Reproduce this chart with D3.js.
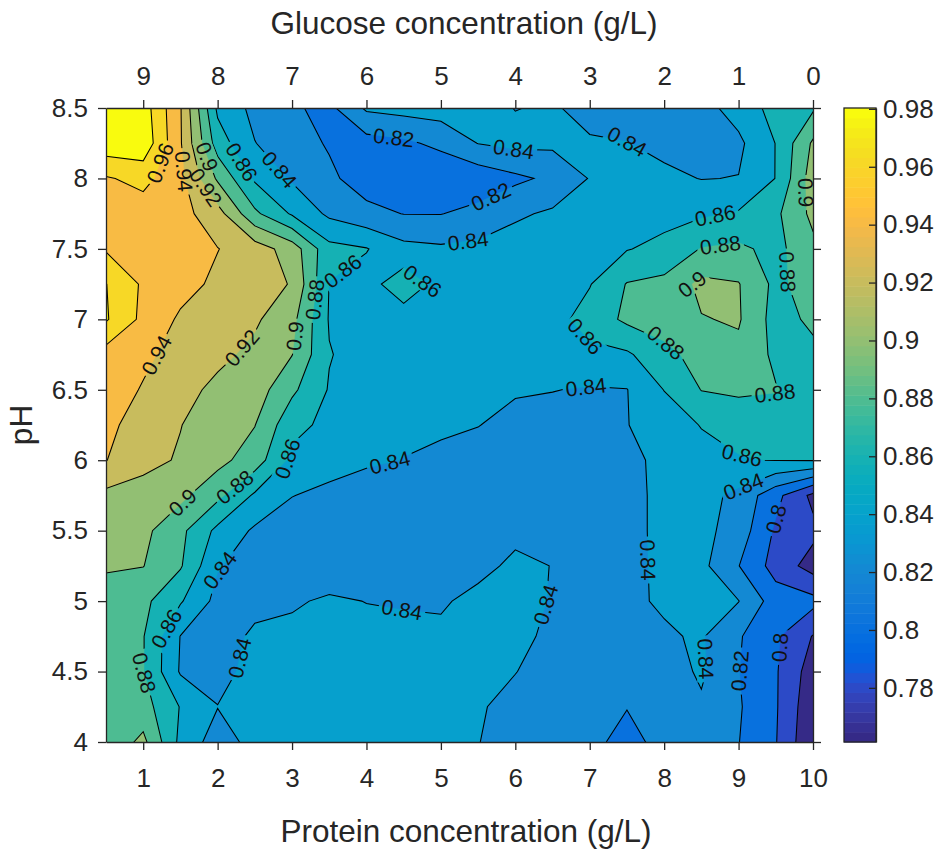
<!DOCTYPE html>
<html>
<head>
<meta charset="utf-8">
<script src="https://cdn.jsdelivr.net/npm/d3@7"></script>
<style>
  body { margin: 0; background: #fff; }
  svg text { font-family: "Liberation Sans", Arial, sans-serif; }
</style>
</head>
<body>
<svg id="chart" width="942" height="856"></svg>
<script>
// grid columns (protein g/L) and rows (pH, top to bottom)
var protein = [0.5, 1, 1.5, 2, 2.5, 3, 3.5, 4, 4.5, 5, 5.5, 6, 6.5, 7, 7.5, 8, 8.5, 9, 9.5, 10]
var phRows = [8.5, 8.25, 8, 7.75, 7.5, 7.25, 7, 6.75, 6.5, 6.25, 6, 5.75, 5.5, 5.25, 5, 4.75, 4.5, 4.25, 4]

// measured response, one array per pH row
var z850 = [0.99, 0.99, 0.9415, 0.856, 0.8345, 0.8225, 0.815, 0.843, 0.847, 0.849, 0.847, 0.8395, 0.842, 0.834, 0.831, 0.830, 0.833, 0.848, 0.867, 0.877]
var z825 = [0.993, 0.994, 0.942, 0.870, 0.8405, 0.829, 0.818, 0.812, 0.816, 0.825, 0.8405, 0.845, 0.844, 0.842, 0.8405, 0.835, 0.832, 0.836, 0.8605, 0.903]
var z800 = [0.958, 0.966, 0.9455, 0.897, 0.857, 0.8375, 0.824, 0.810, 0.803, 0.803, 0.807, 0.816, 0.824, 0.841, 0.845, 0.844, 0.8395, 0.8405, 0.8605, 0.910]
var z775 = [0.952, 0.950, 0.947, 0.928, 0.884, 0.8575, 0.836, 0.826, 0.8195, 0.8195, 0.826, 0.837, 0.843, 0.847, 0.850, 0.853, 0.857, 0.862, 0.876, 0.905]
var z750 = [0.958, 0.952, 0.947, 0.9405, 0.930, 0.911, 0.866, 0.861, 0.846, 0.843, 0.845, 0.849, 0.852, 0.855, 0.859, 0.866, 0.881, 0.884, 0.874, 0.895]
var z725 = [0.9805, 0.957, 0.947, 0.936, 0.927, 0.919, 0.8595, 0.852, 0.872, 0.853, 0.848, 0.848, 0.849, 0.859, 0.881, 0.885, 0.905, 0.901, 0.875, 0.890]
var z700 = [0.982, 0.955, 0.937, 0.930, 0.923, 0.906, 0.8585, 0.851, 0.850, 0.849, 0.848, 0.850, 0.853, 0.868, 0.884, 0.890, 0.899, 0.902, 0.872, 0.884]
var z675 = [0.952, 0.944, 0.933, 0.925, 0.915, 0.9005, 0.861, 0.852, 0.849, 0.848, 0.847, 0.848, 0.850, 0.855, 0.857, 0.874, 0.888, 0.895, 0.876, 0.875]
var z650 = [0.950, 0.9385, 0.927, 0.915, 0.910, 0.884, 0.8585, 0.849, 0.847, 0.846, 0.845, 0.842, 0.8405, 0.8385, 0.8395, 0.8605, 0.8805, 0.884, 0.881, 0.872]
var z625 = [0.945, 0.931, 0.9205, 0.910, 0.9005, 0.866, 0.855, 0.848, 0.845, 0.843, 0.8405, 0.834, 0.833, 0.834, 0.8395, 0.848, 0.861, 0.865, 0.870, 0.870]
var z600 = [0.9405, 0.926, 0.918, 0.906, 0.890, 0.855, 0.848, 0.843, 0.8395, 0.836, 0.832, 0.830, 0.830, 0.831, 0.835, 0.845, 0.852, 0.859, 0.8605, 0.861]
var z575 = [0.915, 0.912, 0.905, 0.885, 0.857, 0.8405, 0.835, 0.830, 0.828, 0.826, 0.825, 0.825, 0.825, 0.826, 0.834, 0.845, 0.847, 0.835, 0.806, 0.775]
var z550 = [0.908, 0.905, 0.885, 0.855, 0.837, 0.830, 0.826, 0.825, 0.824, 0.824, 0.826, 0.834, 0.832, 0.830, 0.834, 0.845, 0.846, 0.831, 0.797, 0.785]
var z525 = [0.903, 0.9005, 0.882, 0.8415, 0.831, 0.827, 0.825, 0.824, 0.825, 0.827, 0.833, 0.845, 0.8395, 0.835, 0.836, 0.843, 0.845, 0.8205, 0.792, 0.772]
var z500 = [0.888, 0.885, 0.862, 0.834, 0.835, 0.837, 0.8435, 0.8395, 0.838, 0.837, 0.847, 0.848, 0.8385, 0.835, 0.837, 0.842, 0.847, 0.8405, 0.810, 0.806]
var z475 = [0.886, 0.881, 0.8395, 0.832, 0.843, 0.846, 0.848, 0.847, 0.846, 0.845, 0.846, 0.845, 0.836, 0.833, 0.834, 0.838, 0.842, 0.822, 0.803, 0.779]
var z450 = [0.884, 0.881, 0.838, 0.832, 0.848, 0.849, 0.850, 0.850, 0.849, 0.848, 0.847, 0.8405, 0.832, 0.828, 0.826, 0.830, 0.843, 0.8205, 0.802, 0.770]
var z425 = [0.883, 0.888, 0.859, 0.8405, 0.847, 0.850, 0.851, 0.851, 0.850, 0.849, 0.842, 0.834, 0.828, 0.825, 0.8205, 0.826, 0.837, 0.822, 0.802, 0.765]
var z400 = [0.885, 0.905, 0.855, 0.830, 0.847, 0.850, 0.851, 0.851, 0.850, 0.849, 0.8405, 0.832, 0.827, 0.824, 0.815, 0.825, 0.828, 0.8205, 0.801, 0.762]

var zRows = [z850, z825, z800, z775, z750, z725, z700, z675, z650, z625, z600, z575, z550, z525, z500, z475, z450, z425, z400]

// contour levels and ticks
var levels = [0.78, 0.8, 0.82, 0.84, 0.86, 0.88, 0.9, 0.92, 0.94, 0.96, 0.98]
var proteinTicks = [1, 2, 3, 4, 5, 6, 7, 8, 9, 10]
var glucoseTicks = [9, 8, 7, 6, 5, 4, 3, 2, 1, 0]
var phTicks = [4, 4.5, 5, 5.5, 6, 6.5, 7, 7.5, 8, 8.5]
var barTicks = [0.78, 0.8, 0.82, 0.84, 0.86, 0.88, 0.9, 0.92, 0.94, 0.96, 0.98]
var colorLimits = [0.7613, 0.9803]

// inline contour labels: [level, protein, pH]
var contourLabels = [
  [0.96, 1.23, 8.11], [0.94, 1.55, 8.05], [0.92, 1.99, 7.99], [0.9, 1.83, 8.15],
  [0.86, 2.33, 8.12], [0.84, 2.76, 8.03], [0.82, 4.36, 8.26], [0.84, 5.98, 8.22],
  [0.82, 5.69, 7.85], [0.84, 5.35, 7.62], [0.84, 7.5, 8.26], [0.86, 3.67, 7.35],
  [0.86, 4.79, 7.30], [0.88, 3.3, 7.14], [0.9, 3.05, 6.88], [0.94, 1.13, 6.76],
  [0.92, 2.41, 6.76], [0.9, 1.6, 5.66], [0.88, 2.26, 5.79], [0.86, 2.88, 6.02],
  [0.84, 4.33, 5.95], [0.84, 2.05, 5.21], [0.86, 1.36, 4.79], [0.88, 1.01, 4.49],
  [0.84, 2.27, 4.60], [0.84, 4.5, 5.01], [0.84, 6.44, 4.97], [0.84, 7.68, 5.29],
  [0.84, 8.55, 4.59], [0.82, 9.13, 4.50], [0.8, 9.52, 5.58], [0.8, 9.61, 4.67],
  [0.84, 9.09, 5.78], [0.86, 9.03, 6.0], [0.86, 8.7, 7.70], [0.88, 8.76, 7.51],
  [0.9, 8.21, 7.26], [0.86, 6.98, 6.90], [0.88, 8.0, 6.82], [0.88, 9.5, 6.42],
  [0.84, 6.95, 6.52], [0.88, 9.76, 7.34], [0.9, 9.93, 7.90]
]

// parula colormap (64 entries)
var parula = [[0.2081,0.1663,0.5292],[0.2116,0.1898,0.5777],[0.2123,0.2138,0.6270],[0.2081,0.2386,0.6771],[0.1959,0.2645,0.7279],[0.1707,0.2919,0.7792],[0.1253,0.3242,0.8303],[0.0591,0.3598,0.8683],[0.0117,0.3875,0.8820],[0.0060,0.4086,0.8828],[0.0165,0.4266,0.8786],[0.0329,0.4430,0.8720],[0.0498,0.4586,0.8641],[0.0629,0.4737,0.8554],[0.0723,0.4887,0.8467],[0.0779,0.5040,0.8384],[0.0793,0.5200,0.8312],[0.0749,0.5375,0.8263],[0.0641,0.5570,0.8240],[0.0488,0.5772,0.8228],[0.0343,0.5966,0.8199],[0.0265,0.6137,0.8135],[0.0239,0.6287,0.8038],[0.0231,0.6418,0.7913],[0.0228,0.6535,0.7768],[0.0267,0.6642,0.7607],[0.0384,0.6743,0.7436],[0.0590,0.6838,0.7254],[0.0843,0.6928,0.7062],[0.1133,0.7015,0.6859],[0.1453,0.7098,0.6646],[0.1801,0.7177,0.6424],[0.2178,0.7250,0.6193],[0.2586,0.7317,0.5954],[0.3022,0.7376,0.5712],[0.3482,0.7424,0.5473],[0.3953,0.7459,0.5244],[0.4420,0.7481,0.5033],[0.4871,0.7491,0.4840],[0.5300,0.7491,0.4661],[0.5709,0.7485,0.4494],[0.6099,0.7473,0.4337],[0.6473,0.7456,0.4188],[0.6834,0.7435,0.4044],[0.7184,0.7411,0.3905],[0.7525,0.7384,0.3768],[0.7858,0.7356,0.3633],[0.8185,0.7327,0.3498],[0.8507,0.7299,0.3360],[0.8824,0.7274,0.3217],[0.9139,0.7258,0.3063],[0.9450,0.7261,0.2886],[0.9739,0.7314,0.2666],[0.9938,0.7455,0.2403],[0.9990,0.7653,0.2164],[0.9955,0.7861,0.1967],[0.9880,0.8066,0.1794],[0.9789,0.8271,0.1633],[0.9697,0.8481,0.1475],[0.9626,0.8705,0.1309],[0.9589,0.8949,0.1132],[0.9598,0.9218,0.0948],[0.9661,0.9514,0.0755],[0.9763,0.9831,0.0538]]
  .map(c => d3.rgb(c[0] * 255, c[1] * 255, c[2] * 255).formatHex())

var plotLeft = 106, plotRight = 813, plotTop = 108, plotBottom = 742
var barLeft = 844, barWidth = 32
var axisColor = '#262626'
var tickFont = 26, titleFont = 31.5, labelFont = 21

var svg = d3.select('#chart')
var defs = svg.append('defs')

// scales
var xScale = d3.scaleLinear().domain([0.5, 10]).range([plotLeft, plotRight])
var xTopScale = d3.scaleLinear().domain([9.5, 0]).range([plotLeft, plotRight])
var yScale = d3.scaleLinear().domain([4, 8.5]).range([plotBottom, plotTop])
var colorScale = d3.scaleQuantize().domain(colorLimits).range(parula)
var barScale = d3.scaleLinear().domain(colorLimits).range([plotBottom, plotTop])

// contours on the grid
var nx = protein.length, ny = phRows.length
var stepX = protein[1] - protein[0], stepY = phRows[0] - phRows[1]
var contours = d3.contours().size([nx, ny]).thresholds(levels)(zRows.flat())

function gridToPx(cx, cy) {
  return [xScale(protein[0] + (cx - 0.5) * stepX), yScale(phRows[0] - (cy - 0.5) * stepY)]
}
var path = d3.geoPath(d3.geoTransform({
  point: function(cx, cy) {
    var p = gridToPx(cx, cy)
    this.stream.point(p[0], p[1])
  }
}))

defs.append('clipPath').attr('id', 'plot-clip')
  .append('rect')
  .attr('x', plotLeft).attr('y', plotTop)
  .attr('width', plotRight - plotLeft).attr('height', plotBottom - plotTop)

var plot = svg.append('g').attr('clip-path', 'url(#plot-clip)')

// lowest band
plot.append('rect')
  .attr('x', plotLeft).attr('y', plotTop)
  .attr('width', plotRight - plotLeft).attr('height', plotBottom - plotTop)
  .style('fill', colorScale(d3.min(zRows.flat())))

plot.selectAll('path.band')
  .data(contours)
  .enter()
  .append('path')
  .attr('class', 'band')
  .attr('d', path)
  .style('fill', d => colorScale(d.value))
  .style('stroke', d => colorScale(d.value))
  .style('stroke-width', 0.3)

// mask to break lines under labels
var mask = defs.append('mask').attr('id', 'label-gaps')
  .attr('maskUnits', 'userSpaceOnUse')
  .attr('x', 0).attr('y', 0).attr('width', 942).attr('height', 856)
mask.append('rect').attr('width', 942).attr('height', 856).style('fill', 'white')

plot.append('g')
  .attr('mask', 'url(#label-gaps)')
  .selectAll('path.line')
  .data(contours)
  .enter()
  .append('path')
  .attr('class', 'line')
  .attr('d', path)
  .style('fill', 'none')
  .style('stroke', '#000')
  .style('stroke-width', 1.05)

// segments of each level, in px, for placing labels on the lines
var segments = {}
contours.forEach(function(c) {
  var list = []
  c.coordinates.forEach(function(poly) {
    poly.forEach(function(ring) {
      var pts = ring.map(p => gridToPx(p[0], p[1]))
      for (var i = 1; i < pts.length; i++) {
        var a = pts[i - 1], b = pts[i]
        var inside = [a, b].every(p => p[0] >= plotLeft - 0.1 && p[0] <= plotRight + 0.1 && p[1] >= plotTop - 0.1 && p[1] <= plotBottom + 0.1)
        if (inside) list.push([a, b])
      }
    })
  })
  segments[c.value] = list
})

function placeLabel(level, px, py) {
  var best = null
  ;(segments[level] || []).forEach(function(s) {
    var a = s[0], b = s[1]
    var dx = b[0] - a[0], dy = b[1] - a[1]
    var len2 = dx * dx + dy * dy
    var t = len2 ? Math.max(0, Math.min(1, ((px - a[0]) * dx + (py - a[1]) * dy) / len2)) : 0
    var qx = a[0] + t * dx, qy = a[1] + t * dy
    var dist = (qx - px) * (qx - px) + (qy - py) * (qy - py)
    if (!best || dist < best.dist) best = { x: qx, y: qy, dist: dist, ang: Math.atan2(dy, dx) * 180 / Math.PI }
  })
  if (!best) return { x: px, y: py, ang: 0 }
  var ang = best.ang
  if (ang > 90) ang -= 180
  if (ang <= -90) ang += 180
  return { x: best.x, y: best.y, ang: ang }
}

var labelLayer = svg.append('g')
contourLabels.forEach(function(d) {
  var pos = placeLabel(d[0], xScale(d[1]), yScale(d[2]))
  var tr = `translate(${pos.x},${pos.y}) rotate(${pos.ang})`
  var t = labelLayer.append('text')
    .attr('transform', tr)
    .attr('text-anchor', 'middle')
    .attr('dy', '0.36em')
    .style('font-size', labelFont + 'px')
    .style('fill', '#111')
    .text(String(d[0]))
  var w = t.node().getComputedTextLength()
  mask.append('rect')
    .attr('transform', tr)
    .attr('x', -w / 2 - 3).attr('y', -labelFont * 0.45)
    .attr('width', w + 6).attr('height', labelFont * 0.9)
    .style('fill', 'black')
})

// axes
function styleAxis(g) {
  g.attr('font-size', tickFont)
    .attr('font-family', '"Liberation Sans", Arial, sans-serif')
    .style('color', axisColor)
  g.selectAll('path, line').style('stroke-width', 1.3)
}

svg.append('g')
  .attr('transform', `translate(0,${plotBottom})`)
  .call(d3.axisBottom(xScale).tickValues(proteinTicks).tickSizeInner(8).tickSizeOuter(0).tickPadding(19))
  .call(styleAxis)

svg.append('g')
  .attr('transform', `translate(0,${plotTop})`)
  .call(d3.axisTop(xTopScale).tickValues(glucoseTicks).tickSizeInner(8).tickSizeOuter(0).tickPadding(15))
  .call(styleAxis)

svg.append('g')
  .attr('transform', `translate(${plotLeft},0)`)
  .call(d3.axisLeft(yScale).tickValues(phTicks).tickSizeInner(8).tickSizeOuter(0).tickPadding(10).tickFormat(d => String(d)))
  .call(styleAxis)

svg.append('g')
  .attr('transform', `translate(${plotRight},0)`)
  .call(d3.axisRight(yScale).tickValues(phTicks).tickSizeInner(8).tickSizeOuter(0).tickFormat(''))
  .call(styleAxis)

// axis titles
svg.append('text')
  .attr('x', 464).attr('y', 34)
  .attr('text-anchor', 'middle')
  .style('font-size', titleFont + 'px')
  .style('fill', axisColor)
  .text('Glucose concentration (g/L)')

svg.append('text')
  .attr('x', 466).attr('y', 842)
  .attr('text-anchor', 'middle')
  .style('font-size', titleFont + 'px')
  .style('fill', axisColor)
  .text('Protein concentration (g/L)')

svg.append('text')
  .attr('transform', `translate(32,${(plotTop + plotBottom) / 2}) rotate(-90)`)
  .attr('text-anchor', 'middle')
  .style('font-size', titleFont + 'px')
  .style('fill', axisColor)
  .text('pH')

// colorbar
var step = (colorLimits[1] - colorLimits[0]) / parula.length
svg.append('g')
  .selectAll('rect')
  .data(parula)
  .enter()
  .append('rect')
  .attr('x', barLeft)
  .attr('width', barWidth)
  .attr('y', (c, i) => barScale(colorLimits[0] + (i + 1) * step))
  .attr('height', (c, i) => barScale(colorLimits[0] + i * step) - barScale(colorLimits[0] + (i + 1) * step) + 0.5)
  .style('fill', c => c)

svg.append('rect')
  .attr('x', barLeft).attr('y', plotTop)
  .attr('width', barWidth).attr('height', plotBottom - plotTop)
  .style('fill', 'none')
  .style('stroke', axisColor)
  .style('stroke-width', 1.3)

svg.append('g')
  .attr('transform', `translate(${barLeft + barWidth},0)`)
  .call(d3.axisRight(barScale).tickValues(barTicks).tickSizeInner(-7).tickSizeOuter(0).tickPadding(7).tickFormat(d => String(d)))
  .call(styleAxis)
</script>
</body>
</html>
